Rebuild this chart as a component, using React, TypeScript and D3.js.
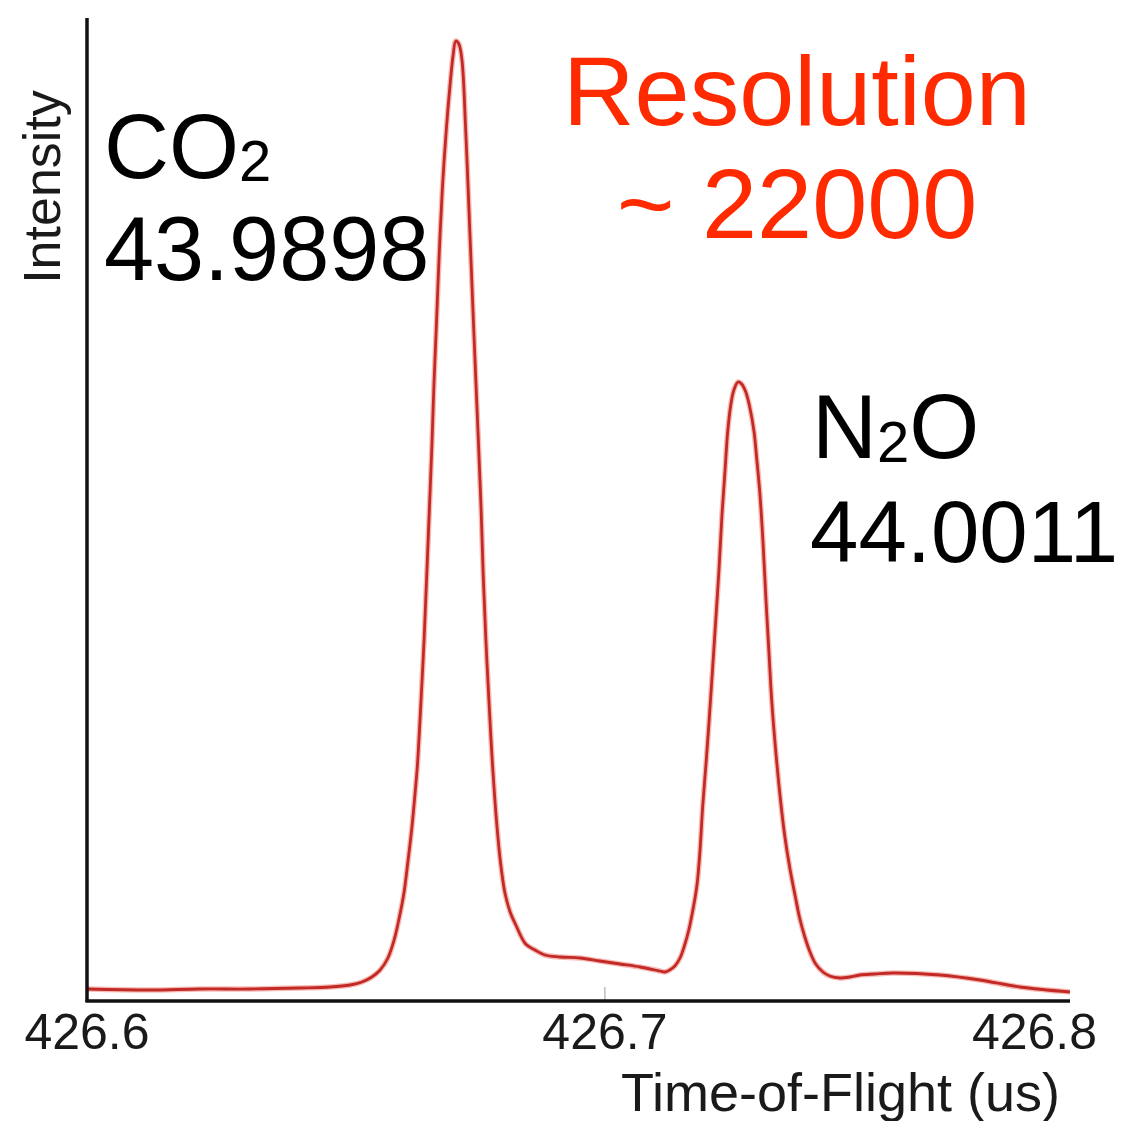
import * as d3 from 'd3';

// Time-of-flight (us) and intensity (arbitrary units)
const times = [
  426.6, 426.6122, 426.6218, 426.6315, 426.6411, 426.6469, 426.6508, 426.6531, 426.655, 426.6566,
  426.6581, 426.6593, 426.6602, 426.6612, 426.662, 426.6627, 426.6634, 426.6638, 426.6645, 426.6651,
  426.6656, 426.6661, 426.6666, 426.667, 426.6675, 426.668, 426.6686, 426.6694, 426.6701, 426.6707,
  426.6712, 426.6718, 426.6724, 426.6731, 426.6736, 426.6741, 426.6746, 426.6751, 426.6756, 426.6761,
  426.6765, 426.677, 426.6776, 426.6783, 426.6792, 426.6799, 426.6807, 426.6817, 426.6828, 426.6847,
  426.6865, 426.6884, 426.6913, 426.6952, 426.699, 426.7029, 426.7068, 426.7097, 426.7106,
  426.7116, 426.7125, 426.7135, 426.7145, 426.7154, 426.7162, 426.7168, 426.7174, 426.7178, 426.7183,
  426.7189, 426.7195, 426.7201, 426.7208, 426.7214, 426.722, 426.7226, 426.7232, 426.7237, 426.7243,
  426.7249, 426.7257, 426.7264, 426.7272, 426.728, 426.7288, 426.7293, 426.7299, 426.7305, 426.7311,
  426.7317, 426.7322, 426.733, 426.7338, 426.7347, 426.7357, 426.7367, 426.7376, 426.7386, 426.7396,
  426.7407, 426.7421, 426.7434, 426.7454, 426.7473, 426.7492, 426.7521, 426.7556, 426.7647, 426.7724,
  426.7801, 426.7898,
];

const intensity = [
  1.1, 1.0, 1.1, 1.1, 1.2, 1.3, 1.5, 1.8, 2.3, 3.0,
  4.2, 6.0, 8.0, 10.7, 14.0, 17.1, 21.0, 23.5, 30.0, 36.2,
  42.5, 49.0, 55.5, 61.7, 68.0, 74.5, 81.0, 87.2, 91.5, 94.5,
  95.9, 95.6, 94.0, 87.2, 81.0, 74.5, 68.0, 61.7, 55.5, 49.0,
  42.5, 36.2, 30.0, 23.5, 17.1, 13.5, 10.7, 8.8, 7.5, 5.6,
  5.0, 4.5, 4.3, 4.2, 3.9, 3.6, 3.3, 3.0, 2.9,
  2.8, 3.0, 3.4, 4.2, 5.5, 7.0, 8.5, 10.2, 11.6, 14.5,
  19.5, 23.5, 27.8, 33.2, 38.0, 42.8, 48.5, 53.0, 56.8, 59.5,
  61.0, 61.8, 61.6, 60.8, 59.2, 56.8, 54.2, 50.8, 46.0, 40.0,
  34.5, 30.0, 24.8, 20.5, 16.5, 13.2, 10.5, 8.2, 6.3, 4.8,
  3.6, 2.8, 2.4, 2.2, 2.3, 2.5, 2.6, 2.7, 2.5, 2.0,
  1.3, 0.8,
];

const xTicks = [426.6, 426.7, 426.8];
const xDomain = [426.6, 426.7898];
const yDomain = [0, 98.2];

const W = 1127;
const H = 1121;
const left = 87;
const right = 1070;
const top = 18;
const bottom = 1000;

const FONT = "'Liberation Sans', Arial, Helvetica, sans-serif";

export default function App() {
  const x = d3.scaleLinear().domain(xDomain).range([left, right]);
  const y = d3.scaleLinear().domain(yDomain).range([bottom, top]);

  const points = times.map((t, i) => [t, intensity[i]] as [number, number]);
  const line = d3
    .line<[number, number]>()
    .x(d => x(d[0]))
    .y(d => y(d[1]))
    .curve(d3.curveCatmullRom.alpha(0.5));
  const path = line(points) || '';

  // last tick sits past the drawn axis end, so its label is pulled in to fit the page
  const tickX = (t: number) => (t > xDomain[1] ? right + 27 : x(t));
  const tickAnchor = (t: number) => (t > xDomain[1] ? 'end' : 'middle');

  return (
    <svg
      width={W}
      height={H}
      style={{ position: 'absolute', left: 0, top: 0, background: '#fff', fontFamily: FONT }}
    >
      <rect width={W} height={H} fill="#fff" />

      {/* minor tick at 426.7 */}
      <line x1={x(426.7)} x2={x(426.7)} y1={bottom - 13} y2={bottom} stroke="#999" strokeWidth={1} />

      {/* trace: soft halo plus darker core */}
      <path d={path} fill="none" stroke="#e86a60" strokeOpacity={0.45} strokeWidth={5.5} strokeLinejoin="round" />
      <path d={path} fill="none" stroke="#c42a25" strokeWidth={2.8} strokeLinejoin="round" />

      {/* axes */}
      <line x1={left} x2={left} y1={top} y2={bottom + 2} stroke="#111" strokeWidth={3.5} />
      <line x1={left - 1.5} x2={right} y1={bottom + 1} y2={bottom + 1} stroke="#111" strokeWidth={3.5} />

      {xTicks.map(t => (
        <text key={t} x={tickX(t)} y={1049} fontSize={50} fill="#1a1a1a" textAnchor={tickAnchor(t)}>
          {t.toFixed(1)}
        </text>
      ))}

      <text x={1060} y={1111} fontSize={54} fill="#1a1a1a" textAnchor="end">
        Time-of-Flight (us)
      </text>

      <text
        transform={`translate(60, 187) rotate(-90)`}
        fontSize={52}
        fill="#1a1a1a"
        textAnchor="middle"
      >
        Intensity
      </text>

      {/* peak labels */}
      <text x={104} y={178} fontSize={90} fill="#000">
        CO
        <tspan fontSize={58} dy={3}>2</tspan>
      </text>
      <text x={104} y={280} fontSize={90} fill="#000">
        43.9898
      </text>

      <text x={812} y={458} fontSize={90} fill="#000">
        N
        <tspan fontSize={58} dy={4}>2</tspan>
        <tspan dy={-4}>O</tspan>
      </text>
      <text x={810} y={562} fontSize={87} fill="#000">
        44.0011
      </text>

      <text x={797} y={125} fontSize={99} fill="#ff2a00" textAnchor="middle">
        Resolution
      </text>
      <text x={797} y={238} fontSize={99} fill="#ff2a00" textAnchor="middle">
        ~ 22000
      </text>
    </svg>
  );
}
